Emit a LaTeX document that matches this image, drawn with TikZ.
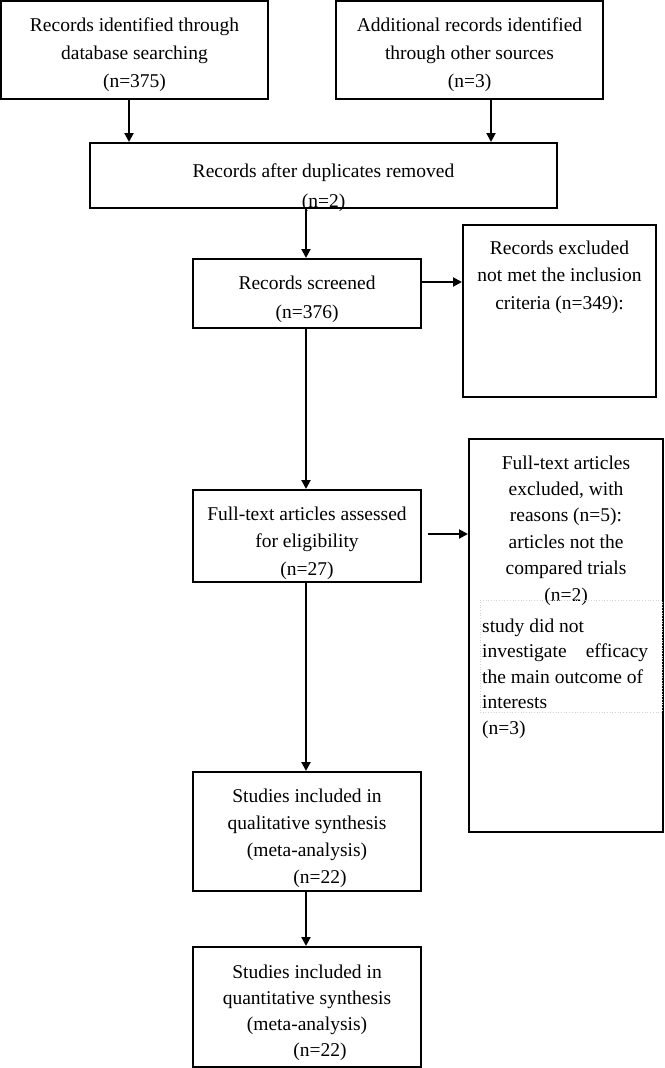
\documentclass[tikz,border=0pt]{standalone}
\usepackage{fontspec}
\setmainfont{Liberation Serif}
\usetikzlibrary{arrows.meta,calc}
\begin{document}
\begin{tikzpicture}[x=1pt,y=-1pt,
  frame/.style={draw, line width=2pt, inner sep=0pt},
  txt/.style={inner sep=0pt, align=center, anchor=north, font=\fontsize{19.5}{27.5}\selectfont},
  arr/.style={line width=2pt, -{Triangle[width=9pt,length=9pt]}},
  dotframe/.style={draw=gray!35, dotted, line width=0.7pt, inner sep=0pt}]
\useasboundingbox (0,0) rectangle (664,1068);
% boxes
\node[frame, minimum width=267pt, minimum height=98pt] (b1) at (134.5,50) {};
\node[txt, font=\fontsize{19.5}{28}\selectfont] (t1) at (134.5,16.8) {\rule{0pt}{14pt}Records identified through\\database searching\\(n=375)};
\node[frame, minimum width=267pt, minimum height=98pt] (b2) at (469.5,50) {};
\node[txt, font=\fontsize{19.5}{28}\selectfont] (t2) at (469.5,16.8) {\rule{0pt}{14pt}Additional records identified\\through other sources\\(n=3)};
\node[frame, minimum width=467pt, minimum height=65pt] (b3) at (323.5,175.5) {};
\node[txt] (t3) at (323.5,162.8) {\rule{0pt}{14pt}Records after duplicates removed\\[2.5pt](n=2)};
\node[frame, minimum width=228pt, minimum height=69pt] (scr) at (307,293.5) {};
\node[txt, font=\fontsize{19.5}{29}\selectfont] (tscr) at (307,274.8) {\rule{0pt}{14pt}Records screened\\(n=376)};
\node[frame, minimum width=193pt, minimum height=172pt] (ex1) at (559.5,311) {};
\node[txt] (tex1) at (559.5,239.8) {\rule{0pt}{14pt}Records excluded\\not met the inclusion\\criteria (n=349):};
\node[frame, minimum width=228pt, minimum height=92pt] (ft) at (307,536) {};
\node[txt] (tft) at (307,505.8) {\rule{0pt}{14pt}Full-text articles assessed\\for eligibility\\(n=27)};
\node[frame, minimum width=194pt, minimum height=393pt] (ex2) at (566,635.5) {};
\node[txt, font=\fontsize{19.5}{26.4}\selectfont] (tex2) at (566,454.8) {\rule{0pt}{14pt}Full-text articles\\excluded, with\\reasons (n=5):\\articles not the\\compared trials\\(n=2)};
\node[dotframe, minimum width=182pt, minimum height=112pt] (dot) at (571,656) {};
\node[txt, anchor=north west, align=flush left, text width=166pt, font=\fontsize{19.5}{25.5}\selectfont] (tdot) at (482,617.8) {\rule{0pt}{14pt}study did not\\investigate\hfill efficacy\\the main outcome of\\interests\\(n=3)};
\node[frame, minimum width=228pt, minimum height=119pt] (qual) at (307,831.5) {};
\node[txt, font=\fontsize{19.5}{27.3}\selectfont] (tqual) at (307,787.8) {\rule{0pt}{14pt}Studies included in\\qualitative synthesis\\(meta-analysis)\\\hspace*{26pt}(n=22)};
\node[frame, minimum width=228pt, minimum height=120pt] (quan) at (307,1007) {};
\node[txt, font=\fontsize{19.5}{26.3}\selectfont] (tquan) at (307,963.8) {\rule{0pt}{14pt}Studies included in\\quantitative synthesis\\(meta-analysis)\\\hspace*{26pt}(n=22)};
% helper coordinates
\coordinate (xa) at (129,0);
\coordinate (xb) at (491,0);
\coordinate (xc) at (306,0);
\coordinate (ya) at (0,282);
\coordinate (yb) at (0,534);
% connectors
\draw[arr] (b1.south -| xa) -- (b3.north -| xa);
\draw[arr] (b2.south -| xb) -- (b3.north -| xb);
\draw[arr] (b3.south -| xc) -- (scr.north -| xc);
\draw[arr] (scr.east |- ya) -- (ex1.west |- ya);
\draw[arr] (scr.south -| xc) -- (ft.north -| xc);
\draw[arr] ($(ft.east |- yb)+(6,0)$) -- (ex2.west |- yb);
\draw[arr] (ft.south -| xc) -- (qual.north -| xc);
\draw[arr] (qual.south -| xc) -- (quan.north -| xc);
\end{tikzpicture}
\end{document}
